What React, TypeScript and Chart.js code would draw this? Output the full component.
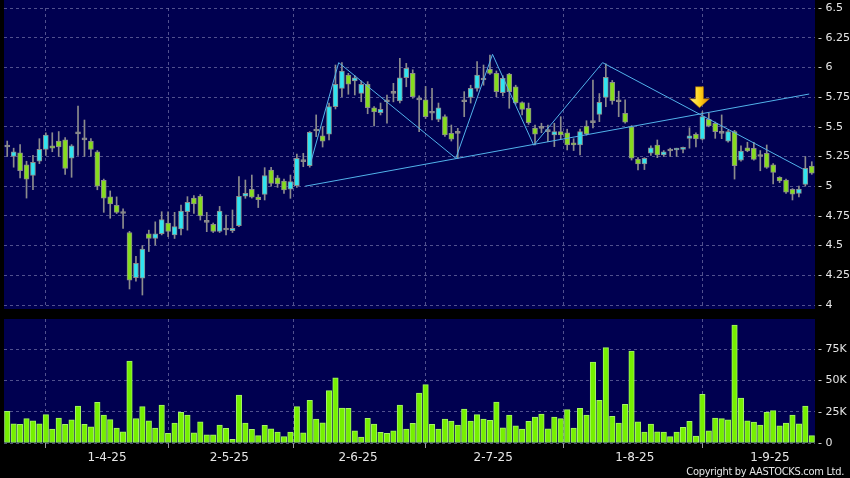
import { useEffect, useRef } from 'react';
import { Chart, registerables } from 'chart.js';

Chart.register(...registerables);

// ---------- data ----------
const openP = [
  5.33, 5.25, 5.28, 5.18, 5.09, 5.21, 5.31, 5.34, 5.38, 5.39,
  5.235, 5.44, 5.39, 5.38, 5.29, 5.05, 4.91, 4.84, 4.77, 4.61,
  4.23, 4.225, 4.6, 4.56, 4.6, 4.69, 4.59, 4.64, 4.785, 4.9,
  4.915, 4.696, 4.68, 4.62, 4.631, 4.625, 4.667, 4.917, 4.974, 4.909,
  4.93, 5.136, 5.07, 5.044, 4.976, 5.004, 5.207, 5.173, 5.465, 5.425,
  5.437, 5.67, 5.824, 5.936, 5.886, 5.782, 5.858, 5.66, 5.619, 5.711,
  5.782, 5.717, 5.913, 5.95, 5.726, 5.726, 5.614, 5.563, 5.585, 5.445,
  5.445, 5.711, 5.748, 5.824, 5.894, 5.984, 5.95, 5.787, 5.944, 5.837,
  5.703, 5.656, 5.49, 5.487, 5.459, 5.431, 5.459, 5.45, 5.366, 5.347,
  5.507, 5.535, 5.605, 5.748, 5.875, 5.711, 5.614, 5.5, 5.226, 5.187,
  5.277, 5.347, 5.263, 5.296, 5.305, 5.31, 5.403, 5.437, 5.395, 5.563,
  5.53, 5.445, 5.38, 5.459, 5.22, 5.324, 5.319, 5.25, 5.277, 5.18,
  5.075, 5.052, 4.974, 4.94, 5.016, 5.17,
];
const highP = [
  5.38, 5.32, 5.35, 5.21, 5.26, 5.4, 5.45, 5.45, 5.46, 5.41,
  5.35, 5.675, 5.557, 5.4, 5.3, 5.06, 4.96, 4.91, 4.81, 4.62,
  4.41, 4.5, 4.63, 4.7, 4.785, 4.785, 4.78, 4.842, 4.912, 4.92,
  4.93, 4.78, 4.69, 4.83, 4.757, 4.8, 5.08, 5.052, 5.094, 4.93,
  5.156, 5.159, 5.09, 5.06, 5.094, 5.27, 5.277, 5.46, 5.6, 5.5,
  5.7, 6.02, 6.04, 5.95, 5.93, 5.886, 5.88, 5.67, 5.7, 5.768,
  5.866, 6.077, 6.034, 5.98, 5.76, 5.84, 5.824, 5.7, 5.6, 5.515,
  5.487, 5.796, 5.85, 6.048, 6.02, 6.104, 5.97, 5.93, 5.95, 5.85,
  5.71, 5.7, 5.515, 5.53, 5.515, 5.53, 5.585, 5.48, 5.4, 5.48,
  5.551, 5.894, 5.78, 6.03, 5.89, 5.8, 5.726, 5.51, 5.24, 5.24,
  5.34, 5.389, 5.3, 5.32, 5.32, 5.33, 5.492, 5.45, 5.627, 5.614,
  5.54, 5.6, 5.47, 5.47, 5.34, 5.37, 5.37, 5.3, 5.347, 5.19,
  5.08, 5.06, 4.98, 5.0, 5.25, 5.206,
];
const lowP = [
  5.25, 5.16, 5.07, 4.9, 4.97, 5.19, 5.26, 5.29, 5.25, 5.1,
  5.075, 5.26, 5.25, 5.25, 4.97, 4.78, 4.73, 4.77, 4.645, 4.135,
  4.2, 4.084, 4.45, 4.505, 4.59, 4.575, 4.56, 4.59, 4.63, 4.77,
  4.715, 4.617, 4.61, 4.61, 4.59, 4.61, 4.66, 4.898, 4.9, 4.82,
  4.884, 5.0, 4.99, 4.94, 4.898, 4.99, 5.164, 5.16, 5.417, 5.33,
  5.389, 5.65, 5.753, 5.774, 5.768, 5.711, 5.61, 5.507, 5.6, 5.53,
  5.71, 5.7, 5.837, 5.74, 5.459, 5.57, 5.557, 5.543, 5.42, 5.38,
  5.235, 5.585, 5.7, 5.8, 5.85, 5.94, 5.753, 5.76, 5.656, 5.69,
  5.6, 5.52, 5.347, 5.45, 5.375, 5.333, 5.4, 5.305, 5.3, 5.263,
  5.43, 5.49, 5.543, 5.669, 5.69, 5.585, 5.53, 5.22, 5.136, 5.14,
  5.26, 5.24, 5.25, 5.25, 5.25, 5.28, 5.32, 5.33, 5.39, 5.5,
  5.403, 5.4, 5.37, 5.06, 5.21, 5.29, 5.22, 5.13, 5.15, 5.019,
  5.03, 4.94, 4.884, 4.91, 5.0, 5.1,
];
const closeP = [
  5.33, 5.29, 5.13, 5.06, 5.2, 5.31, 5.43, 5.32, 5.33, 5.15,
  5.34, 5.44, 5.39, 5.31, 5.0, 4.9, 4.85, 4.78, 4.77, 4.21,
  4.35, 4.47, 4.56, 4.6, 4.72, 4.62, 4.66, 4.79, 4.864, 4.85,
  4.75, 4.696, 4.62, 4.79, 4.631, 4.646, 4.915, 4.94, 4.907, 4.887,
  5.09, 5.024, 5.02, 4.968, 5.038, 5.235, 5.207, 5.454, 5.465, 5.38,
  5.67, 5.858, 5.97, 5.858, 5.913, 5.858, 5.66, 5.625, 5.647, 5.711,
  5.782, 5.913, 5.992, 5.753, 5.726, 5.585, 5.614, 5.66, 5.431, 5.395,
  5.445, 5.711, 5.824, 5.936, 5.894, 5.95, 5.796, 5.908, 5.796, 5.703,
  5.647, 5.535, 5.437, 5.487, 5.459, 5.459, 5.431, 5.347, 5.347, 5.459,
  5.44, 5.535, 5.706, 5.917, 5.717, 5.711, 5.538, 5.235, 5.187, 5.235,
  5.324, 5.263, 5.29, 5.296, 5.315, 5.324, 5.423, 5.397, 5.585, 5.507,
  5.459, 5.445, 5.459, 5.173, 5.296, 5.296, 5.226, 5.25, 5.159, 5.117,
  5.044, 4.949, 4.932, 4.976, 5.15, 5.109,
];
// volume in thousands of shares
const volumeK = [
  25.3, 15.4, 14.9, 19.4, 17.8, 15.4, 22.6, 11.2, 19.9, 14.9,
  18.4, 29.5, 14.9, 13.0, 32.4, 22.3, 18.6, 12.0, 9.0, 65.4,
  19.4, 29.0, 17.8, 12.0, 30.3, 7.7, 16.0, 24.5, 22.3, 8.2,
  17.0, 6.6, 6.6, 14.4, 11.7, 2.9, 38.3, 16.0, 10.9, 5.9,
  14.1, 11.4, 8.8, 5.1, 8.8, 29.0, 8.2, 34.0, 19.1, 16.2,
  41.8, 52.1, 27.9, 27.7, 9.8, 4.8, 19.7, 15.2, 8.5, 7.7,
  9.8, 30.3, 11.2, 15.7, 39.9, 46.6, 14.9, 11.2, 19.1, 17.6,
  14.4, 27.1, 17.6, 22.6, 19.1, 18.1, 32.7, 12.2, 22.3, 13.8,
  11.2, 17.3, 20.7, 23.1, 11.4, 20.7, 19.4, 26.6, 12.0, 27.7,
  22.3, 64.6, 34.0, 76.1, 21.3, 16.0, 30.9, 73.4, 17.0, 8.8,
  15.2, 9.0, 8.8, 5.1, 8.8, 12.5, 17.3, 5.6, 38.8, 9.8,
  19.9, 19.4, 18.4, 94.1, 35.9, 17.8, 16.8, 14.4, 24.5, 25.8,
  13.8, 16.0, 22.3, 15.4, 29.5, 5.9,
];

// first trading day of each month (candle index) and its label
const dateTickIndex = [16, 35, 55, 76, 98, 119];
const dateTickLabel = ['1-4-25', '2-5-25', '2-6-25', '2-7-25', '1-8-25', '1-9-25'];
const priceTicks = [4, 4.25, 4.5, 4.75, 5, 5.25, 5.5, 5.75, 6, 6.25, 6.5];
const priceTickLabels = ['4', '4.25', '4.5', '4.75', '5', '5.25', '5.5', '5.75', '6', '6.25', '6.5'];
const volumeTicks = [0, 25, 50, 75];
const volumeTickLabels = ['0', '25K', '50K', '75K'];

// drawn trend lines (candle index, price)
const necklineX = [46.3, 124.6];
const necklineY = [5.0, 5.776];
const zigzagX = [47.1, 51.5, 69.7, 75.4, 81.8, 92.5, 123.6];
const zigzagY = [5.19, 6.04, 5.235, 6.11, 5.345, 6.04, 5.145];
// marker arrow tip
const arrowX = 107.5;
const arrowY = 5.66;

// ---------- styles ----------
const NAVY = '#000050';
const GRID = 'rgba(125,125,175,0.65)';
const UP = '#30e4f0';
const DOWN = '#86dc1e';
const DOJI = '#8c8c8c';
const EDGE = '#8c8c8c';
const TREND = '#52b2ea';
const TEXT = '#e6e6e6';
const VOL_FILL = '#76f000';
const VOL_EDGE = '#a4f466';
const FONT = 'DejaVu Sans';

const N = openP.length;

function panelBg(topExtra: number, bottomExtra: number) {
  return {
    id: 'panelBg',
    beforeDraw(chart: any) {
      const { ctx, chartArea: a } = chart;
      ctx.save();
      ctx.fillStyle = NAVY;
      ctx.fillRect(a.left, a.top - topExtra, a.right - a.left, a.bottom - a.top + topExtra + bottomExtra);
      ctx.restore();
    },
  };
}

const arrowPlugin = {
  id: 'arrowMark',
  afterDatasetsDraw(chart: any) {
    const { ctx, scales } = chart;
    const x = Math.round(scales.x.getPixelForValue(arrowX)) + 0.5;
    const y = scales.y.getPixelForValue(arrowY);
    ctx.save();
    const g = ctx.createLinearGradient(x - 10, 0, x + 10, 0);
    g.addColorStop(0, '#fff58a');
    g.addColorStop(0.5, '#ffd31a');
    g.addColorStop(1, '#e08c00');
    ctx.fillStyle = g;
    ctx.strokeStyle = '#a06400';
    ctx.lineWidth = 0.6;
    ctx.beginPath();
    ctx.moveTo(x, y);
    ctx.lineTo(x - 10, y - 9);
    ctx.lineTo(x - 4, y - 9);
    ctx.lineTo(x - 4, y - 21);
    ctx.lineTo(x + 4, y - 21);
    ctx.lineTo(x + 4, y - 9);
    ctx.lineTo(x + 10, y - 9);
    ctx.closePath();
    ctx.fill();
    ctx.stroke();
    ctx.restore();
  },
};

export default function App() {
  const mainRef = useRef<HTMLCanvasElement>(null);
  const volRef = useRef<HTMLCanvasElement>(null);

  useEffect(() => {
    document.body.style.margin = '0';
    document.body.style.background = '#000';
    Chart.defaults.font.family = FONT;

    const bodies = openP.map((o, i) => ({ x: i, y: [o, closeP[i]] }));
    const bodyColors = openP.map((o, i) =>
      closeP[i] > o ? UP : closeP[i] < o ? DOWN : DOJI
    );
    const wicks = lowP.map((l, i) => ({ x: i, y: [l, highP[i]] }));
    const neck = necklineX.map((x, i) => ({ x, y: necklineY[i] }));
    const zig = zigzagX.map((x, i) => ({ x, y: zigzagY[i] }));
    const vols = volumeK.map((v, i) => ({ x: i, y: v }));

    const xBase: any = {
      type: 'linear',
      min: -0.5,
      max: N - 0.5,
      offset: false,
      afterBuildTicks: (s: any) => {
        s.ticks = dateTickIndex.map((v) => ({ value: v - 0.5 }));
      },
      border: { display: false, dash: [3, 3] },
    };

    const main = new Chart(mainRef.current as HTMLCanvasElement, {
      type: 'bar',
      data: {
        datasets: [
          {
            type: 'line',
            data: neck,
            borderColor: TREND,
            borderWidth: 1,
            pointRadius: 0,
            order: 0,
          } as any,
          {
            type: 'line',
            data: zig,
            borderColor: TREND,
            borderWidth: 1,
            pointRadius: 0,
            tension: 0,
            order: 0,
          } as any,
          {
            type: 'bar',
            data: bodies,
            backgroundColor: bodyColors,
            borderColor: EDGE,
            borderWidth: 1,
            borderSkipped: false,
            barThickness: 5,
            minBarLength: 2,
            grouped: false,
            order: 1,
          } as any,
          {
            type: 'bar',
            data: wicks,
            backgroundColor: EDGE,
            borderWidth: 0,
            barThickness: 1,
            grouped: false,
            order: 2,
          } as any,
        ],
      },
      options: {
        animation: false,
        responsive: false,
        maintainAspectRatio: false,
        layout: { autoPadding: false, padding: { left: 4, top: 10, right: 0, bottom: 10 } },
        plugins: { legend: { display: false }, tooltip: { enabled: false } },
        scales: {
          x: {
            ...xBase,
            ticks: { display: false },
            grid: { color: GRID, drawTicks: false, lineWidth: 1 },
            afterFit: (s: any) => {
              s.height = 0;
            },
          },
          y: {
            type: 'linear',
            position: 'right',
            min: 4,
            max: 6.5,
            afterBuildTicks: (s: any) => {
              s.ticks = priceTicks.map((v) => ({ value: v }));
            },
            afterFit: (s: any) => {
              s.width = 35;
            },
            border: { display: false, dash: [3, 3] },
            grid: { color: GRID, drawTicks: false },
            ticks: {
              color: TEXT,
              padding: 3,
              font: { size: 11, family: FONT },
              callback: (v: any) => '- ' + priceTickLabels[priceTicks.indexOf(Number(v))],
            },
          },
        } as any,
      },
      plugins: [panelBg(10, 4), arrowPlugin],
    } as any);

    const vol = new Chart(volRef.current as HTMLCanvasElement, {
      type: 'bar',
      data: {
        datasets: [
          {
            data: vols,
            backgroundColor: VOL_FILL,
            borderColor: VOL_EDGE,
            borderWidth: 1,
            borderSkipped: false,
            barThickness: 5.5,
            grouped: false,
          } as any,
        ],
      },
      options: {
        animation: false,
        responsive: false,
        maintainAspectRatio: false,
        layout: { autoPadding: false, padding: { left: 4, top: 10, right: 0, bottom: 0 } },
        plugins: { legend: { display: false }, tooltip: { enabled: false } },
        scales: {
          x: {
            ...xBase,
            grid: {
              color: GRID,
              drawTicks: true,
              tickLength: 5,
              tickColor: '#9a9a9a',
              tickBorderDash: [],
            },
            ticks: {
              color: TEXT,
              padding: 3,
              autoSkip: false,
              maxRotation: 0,
              font: { size: 12, family: FONT },
              callback: (v: any) => dateTickLabel[dateTickIndex.indexOf(Number(v) + 0.5)],
            },
            afterFit: (s: any) => {
              s.height = 35;
            },
          },
          y: {
            type: 'linear',
            position: 'right',
            min: 0,
            max: 99,
            afterBuildTicks: (s: any) => {
              s.ticks = volumeTicks.map((v) => ({ value: v }));
            },
            afterFit: (s: any) => {
              s.width = 35;
            },
            border: { display: false, dash: [3, 3] },
            grid: { color: GRID, drawTicks: false },
            ticks: {
              color: TEXT,
              padding: 3,
              font: { size: 11, family: FONT },
              callback: (v: any) => '- ' + volumeTickLabels[volumeTicks.indexOf(Number(v))],
            },
          },
        } as any,
      },
      plugins: [panelBg(0, 0)],
    } as any);

    return () => {
      main.destroy();
      vol.destroy();
    };
  }, []);

  return (
    <div style={{ position: 'relative', width: 850, height: 478, background: '#000', overflow: 'hidden' }}>
      <canvas ref={mainRef} width={850} height={317} style={{ position: 'absolute', left: 0, top: -2, width: 850, height: 317 }} />
      <canvas ref={volRef} width={850} height={169} style={{ position: 'absolute', left: 0, top: 309, width: 850, height: 169 }} />
      <div
        style={{
          position: 'absolute',
          right: 6,
          top: 465,
          font: '11px "DejaVu Sans Condensed", "DejaVu Sans", sans-serif',
          letterSpacing: '-0.3px',
          lineHeight: '13px',
          color: TEXT,
          whiteSpace: 'nowrap',
        }}
      >
        Copyright by AASTOCKS.com Ltd.
      </div>
    </div>
  );
}
